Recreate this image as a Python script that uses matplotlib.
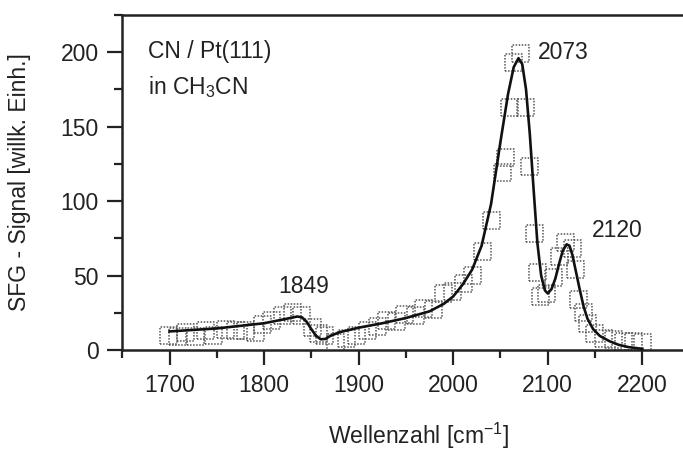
import matplotlib
matplotlib.use("Agg")
import matplotlib.pyplot as plt
from matplotlib.ticker import MultipleLocator

plt.rcParams['font.family'] = ['Liberation Sans', 'DejaVu Sans']

# measured SFG points
wn = [1699, 1708, 1717, 1727, 1738, 1747, 1759, 1770, 1780, 1791, 1798, 1808,
      1819, 1830, 1840, 1851, 1858, 1864, 1876, 1887, 1898, 1909, 1920, 1929,
      1940, 1949, 1960, 1969, 1979, 1990, 1999, 2011, 2020, 2031, 2041, 2052,
      2055, 2060, 2064, 2071, 2076, 2081, 2086, 2089, 2092, 2099, 2106, 2112,
      2119, 2126, 2129, 2133, 2138, 2142, 2149, 2159, 2170, 2180, 2191, 2200]
signal = [10, 9, 12, 9, 13, 10, 14, 13, 13, 12, 17, 20,
          23, 25, 23, 15, 11, 10, 5, 8, 10, 13, 16, 20,
          19, 24, 23, 28, 27, 38, 39, 45, 50, 66, 87, 119,
          129, 163, 193, 199, 163, 123, 78, 52, 36, 38, 49, 63,
          72, 68, 54, 34, 25, 18, 11, 8, 7, 6, 6, 5]

# fit curve
fit_x = [1700, 1750, 1800, 1820, 1835, 1840, 1845, 1850, 1855, 1860, 1865, 1870,
         1880, 1900, 1925, 1950, 1975, 1990, 2000, 2010, 2020, 2030, 2040, 2050,
         2058, 2064, 2069, 2073, 2077, 2081, 2085, 2089, 2093, 2097, 2100, 2104,
         2108, 2112, 2116, 2120, 2123, 2126, 2130, 2134, 2138, 2142, 2148, 2155,
         2165, 2175, 2185, 2200]
fit_y = [12.5, 14.5, 18, 20.5, 22.5, 22, 19, 14, 9.5, 7.2, 7.5, 9.5,
         12, 15, 18, 21.5, 26, 31, 36, 44, 54, 70, 98, 140,
         172, 190, 196, 192, 175, 145, 108, 72, 50, 40, 38, 41,
         48, 58, 67, 71, 70, 64, 52, 40, 29, 21, 14, 9.5,
         6, 3.5, 2, 0.8]

peaks = [("2073", 2089, 200), ("2120", 2147, 80), ("1849", 1815, 43)]

fig = plt.figure(figsize=(6.83, 4.54), dpi=100)
ax = fig.add_axes([0.179, 0.229, 0.821, 0.738])

ax.scatter(wn, signal, marker='s', s=150, facecolors='none',
           edgecolors='#555555', linewidths=1.1, linestyles=(0, (1, 1)), zorder=2)
ax.plot(fit_x, fit_y, color='#111111', lw=1.9, zorder=3)

ax.set_xlim(1650, 2243)
ax.set_ylim(0, 225)
ax.xaxis.set_major_locator(MultipleLocator(100))
ax.xaxis.set_minor_locator(MultipleLocator(50))
ax.yaxis.set_major_locator(MultipleLocator(50))
ax.yaxis.set_minor_locator(MultipleLocator(25))

ax.spines['right'].set_visible(False)
for s in ['left', 'bottom', 'top']:
    ax.spines[s].set_linewidth(1.8)
    ax.spines[s].set_color('#222222')
ax.tick_params(which='major', direction='out', length=11, width=1.6,
               labelsize=16.5, colors='#222222', pad=6)
ax.tick_params(which='minor', direction='out', length=6, width=1.6, colors='#222222')
ax.tick_params(top=False, right=False)

ax.set_xlabel(r'Wellenzahl [cm$^{\mathregular{-1}}$]', fontsize=16.5, color='#222222')
ax.xaxis.set_label_coords(0.528, -0.21)
ax.set_ylabel('SFG - Signal [willk. Einh.]', fontsize=16.5, color='#222222')
ax.yaxis.set_label_coords(-0.163, 0.5)

ax.text(0.046, 0.89, 'CN / Pt(111)', transform=ax.transAxes, fontsize=16.5,
        va='center', color='#222222')
ax.text(0.046, 0.785, r'in CH$_\mathregular{3}$CN', transform=ax.transAxes, fontsize=16.5,
        va='center', color='#222222')
for lab, px, py in peaks:
    ax.text(px, py, lab, fontsize=16.5, va='center', ha='left', color='#222222')

fig.savefig('out.png', dpi=100)
